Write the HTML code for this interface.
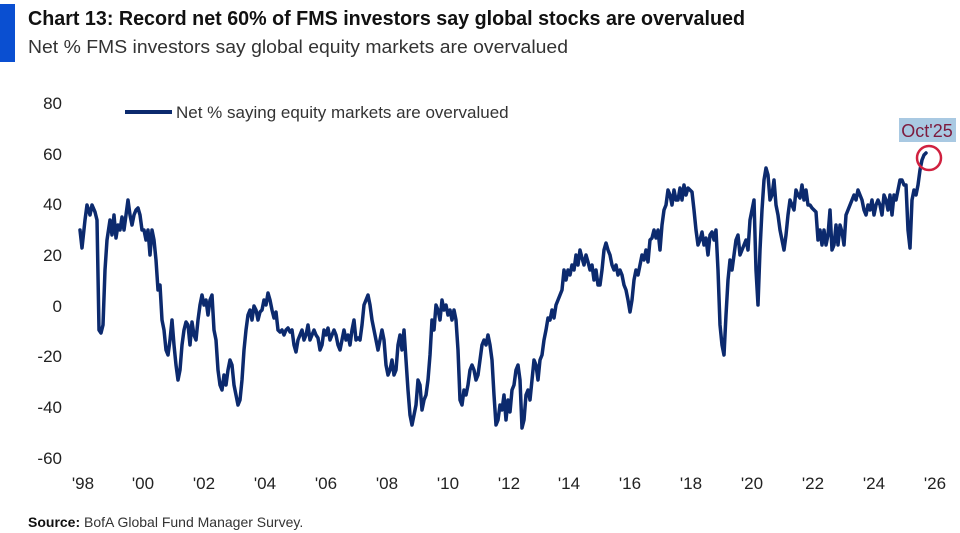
<!DOCTYPE html>
<html><head><meta charset="utf-8"><style>
html,body{margin:0;padding:0;background:#fff}
svg{display:block;font-family:"Liberation Sans",sans-serif}
</style></head><body>
<svg width="960" height="533" viewBox="0 0 960 533" xmlns="http://www.w3.org/2000/svg">
<rect x="0" y="4" width="15" height="58" fill="#0a4fd1"/>
<text x="28" y="25" font-size="20" font-weight="bold" fill="#111" textLength="717" lengthAdjust="spacingAndGlyphs">Chart 13: Record net 60% of FMS investors say global stocks are overvalued</text>
<text x="28" y="53" font-size="18" fill="#333" textLength="540" lengthAdjust="spacingAndGlyphs">Net % FMS investors say global equity markets are overvalued</text>
<g font-size="17" fill="#222" text-anchor="end">
<text x="62" y="109">80</text><text x="62" y="160">60</text><text x="62" y="210">40</text><text x="62" y="261">20</text><text x="62" y="312">0</text><text x="62" y="362">-20</text><text x="62" y="413">-40</text><text x="62" y="464">-60</text>
</g>
<g font-size="17" fill="#222" text-anchor="middle">
<text x="83" y="489">'98</text><text x="143" y="489">'00</text><text x="204" y="489">'02</text><text x="265" y="489">'04</text><text x="326" y="489">'06</text><text x="387" y="489">'08</text><text x="448" y="489">'10</text><text x="509" y="489">'12</text><text x="569" y="489">'14</text><text x="630" y="489">'16</text><text x="691" y="489">'18</text><text x="752" y="489">'20</text><text x="813" y="489">'22</text><text x="874" y="489">'24</text><text x="935" y="489">'26</text>
</g>
<line x1="125" y1="112" x2="172" y2="112" stroke="#0c2a6e" stroke-width="4"/>
<text x="176" y="118" font-size="17" fill="#333">Net % saying equity markets are overvalued</text>
<polyline fill="none" stroke="#0c2a6e" stroke-width="3.5" stroke-linejoin="round" stroke-linecap="round" points="80,230 82,248 85,220 87,205 90,215 92,205 95,212 97,220 99,330 101,333 103,325 105,270 107,240 110,220 112,235 114,215 116,238 118,225 120,230 122,217 124,230 126,215 128,200 130,215 132,225 134,215 136,210 138,208 140,215 142,230 144,230 146,240 148,230 150,255 152,230 154,240 156,260 158,290 160,285 162,320 164,330 166,350 168,355 170,340 172,320 174,345 176,365 178,380 180,370 182,345 184,330 186,322 188,325 190,345 192,322 194,335 196,340 198,320 200,305 202,295 204,305 206,300 208,315 210,300 212,295 214,330 216,340 218,370 220,385 222,390 224,375 226,385 228,370 230,360 232,365 234,385 236,395 238,405 240,400 242,380 244,350 246,330 248,315 250,310 252,320 254,306 256,310 258,320 260,312 262,310 264,300 266,305 268,293 270,300 272,310 274,318 276,312 278,330 280,332 282,330 284,335 286,330 288,328 290,332 292,330 294,345 296,352 298,340 300,335 302,330 304,340 306,335 308,325 310,340 312,335 314,330 316,335 318,338 320,350 322,345 324,330 326,335 328,328 330,340 332,335 334,330 336,335 338,345 340,350 342,340 344,330 346,340 348,335 350,345 352,330 354,320 356,340 358,338 360,340 362,325 364,305 366,300 368,295 370,305 372,320 374,330 376,340 378,350 380,340 382,330 384,340 386,365 388,375 390,370 392,360 394,375 396,370 398,345 400,335 402,350 404,330 406,360 408,390 410,415 412,425 414,415 416,405 418,380 420,385 422,410 424,400 426,395 428,380 430,355 432,320 434,330 436,305 438,310 440,320 442,300 444,310 446,305 448,315 450,310 452,320 454,310 456,320 458,350 460,400 462,405 464,390 466,395 468,385 470,370 472,365 474,370 476,380 478,375 480,360 482,345 484,340 486,345 488,335 490,345 492,360 494,395 496,425 498,420 500,405 502,410 504,395 506,420 508,400 510,412 512,390 514,385 516,370 518,365 520,380 522,428 524,420 526,395 528,390 530,400 532,380 534,360 536,365 538,380 540,360 542,355 544,340 546,330 548,318 550,320 552,310 554,318 556,305 558,300 560,295 562,290 564,270 566,280 568,270 570,275 572,265 574,270 576,255 578,265 580,250 582,258 584,265 586,255 588,262 590,270 592,265 594,280 596,270 598,285 600,285 602,270 604,250 606,243 608,250 610,255 612,265 614,270 616,265 618,275 620,270 622,275 624,285 626,290 628,300 630,312 632,300 634,280 636,270 638,275 640,265 642,255 644,260 646,250 648,262 650,240 652,238 654,230 656,238 658,230 660,250 662,225 664,210 666,205 668,190 670,195 672,205 674,190 676,200 678,200 680,188 682,200 684,185 686,195 688,188 690,190 692,192 694,210 696,230 698,245 700,240 702,232 704,245 706,238 708,255 710,235 712,232 714,240 716,230 718,270 720,325 722,345 724,355 726,315 728,280 730,260 732,270 734,255 736,240 738,235 740,255 742,250 744,245 746,240 748,250 750,220 752,210 754,200 756,270 758,305 760,250 762,210 764,180 766,168 768,175 770,200 772,195 774,180 776,205 778,215 780,230 782,240 784,250 786,235 788,215 790,200 792,205 794,210 796,190 798,195 800,198 802,185 804,200 806,190 808,205 810,205 812,208 814,210 816,212 818,240 820,230 822,245 824,230 826,245 828,235 830,210 832,250 834,245 836,225 838,245 840,225 842,232 844,245 846,215 848,210 850,205 852,200 854,195 856,200 858,190 860,195 862,200 864,210 866,215 868,205 870,210 872,200 874,215 876,205 878,200 880,205 882,215 884,195 886,200 888,210 890,195 892,215 894,195 896,200 898,190 900,180 902,180 904,185 906,185 908,230 910,248 912,200 914,190 916,195 918,185 920,170 922,160 924,155 926,153"/>
<circle cx="929" cy="158" r="12" fill="none" stroke="#d0213f" stroke-width="2.5"/>
<rect x="899" y="118" width="57" height="24" fill="#a9c9e2"/>
<text x="927" y="137" font-size="18" fill="#7d1b3e" text-anchor="middle">Oct'25</text>
<text x="28" y="527" font-size="14" fill="#333"><tspan font-weight="bold" fill="#111">Source:</tspan> BofA Global Fund Manager Survey.</text>
</svg>
</body></html>
